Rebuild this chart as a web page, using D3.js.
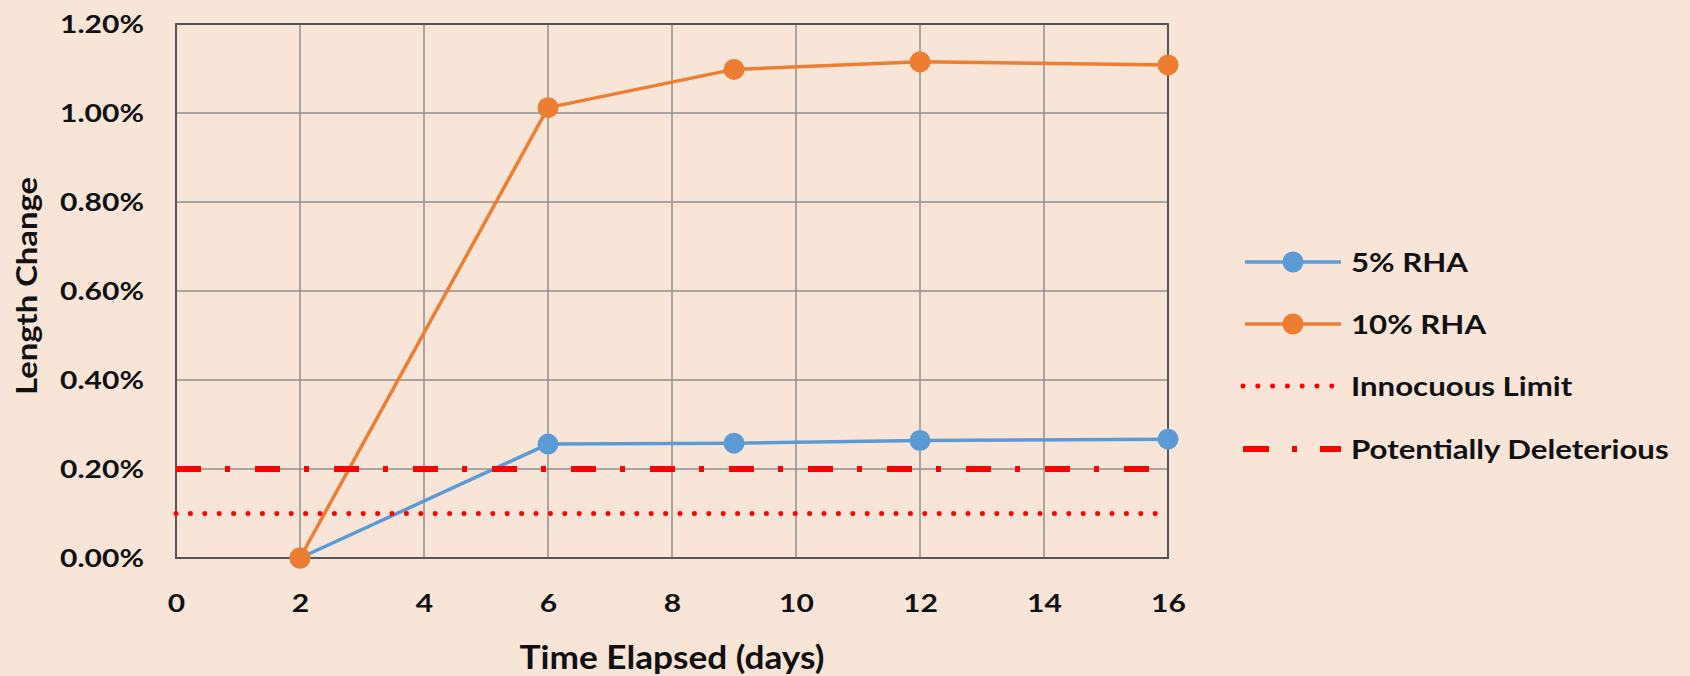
<!DOCTYPE html>
<html>
<head>
<meta charset="utf-8">
<script src="https://cdn.jsdelivr.net/npm/d3@7/dist/d3.min.js"></script>
<style>
  html, body { margin: 0; padding: 0; background: #F9E5D8; }
  svg { display: block; }
  text { font-family: Lato, "Open Sans", sans-serif; font-weight: bold; fill: #111; }
</style>
</head>
<body>
<svg id="chart" width="1690" height="676"></svg>
<script>
// ---- data ----
const days = [2, 6, 9, 12, 16];
const rha5 = [0, 0.00256, 0.00258, 0.00264, 0.00267];
const rha10 = [0, 0.01012, 0.01098, 0.01115, 0.01108];
const innocuousLimit = 0.001;
const potentiallyDeleterious = 0.002;
const xTicks = [0, 2, 4, 6, 8, 10, 12, 14, 16];
const yTicks = [0, 0.002, 0.004, 0.006, 0.008, 0.010, 0.012];
const seriesNames = ["5% RHA", "10% RHA", "Innocuous Limit", "Potentially Deleterious"];
const xTitle = "Time Elapsed (days)";
const yTitle = "Length Change";

// ---- layout ----
const svg = d3.select("#chart");
const x = d3.scaleLinear().domain([0, 16]).range([176, 1168]);
const y = d3.scaleLinear().domain([0, 0.012]).range([558, 24]);
const blue = "#5B9BD5", orange = "#ED7D31", red = "#FF0000";
const SX = 1.2; // horizontal text stretch seen in the reference

svg.append("rect").attr("width", 1690).attr("height", 676).attr("fill", "#F9E5D8");

// gridlines
const grid = svg.append("g");
grid.selectAll("line.v").data(xTicks).enter().append("line")
  .attr("x1", d => x(d)).attr("x2", d => x(d)).attr("y1", y(0.012)).attr("y2", y(0))
  .attr("stroke", "#8f8f8f").attr("stroke-width", 1.5);
grid.selectAll("line.h").data(yTicks).enter().append("line")
  .attr("y1", d => y(d)).attr("y2", d => y(d)).attr("x1", x(0)).attr("x2", x(16))
  .attr("stroke", "#8f8f8f").attr("stroke-width", 1.5);
// frame
svg.append("rect").attr("x", x(0)).attr("y", y(0.012))
  .attr("width", x(16) - x(0)).attr("height", y(0) - y(0.012))
  .attr("fill", "none").attr("stroke", "#555").attr("stroke-width", 2);

function stretch(sel, sx) {
  sel.each(function () {
    const t = d3.select(this);
    const tx = +t.attr("x") || 0;
    t.attr("x", 0).attr("transform", `translate(${tx},0) scale(${sx},1)`);
  });
}

// axes (labels only)
const yAxis = d3.axisLeft(y).tickValues(yTicks).tickFormat(d3.format(".2%")).tickSize(0).tickPadding(32);
const gy = svg.append("g").attr("transform", `translate(${x(0)},0)`).call(yAxis);
gy.select(".domain").remove();
gy.selectAll("text").style("font-size", "25px").attr("dy", "0.35em").attr("fill", "#111");
stretch(gy.selectAll("text"), SX);

const xAxis = d3.axisBottom(x).tickValues(xTicks).tickFormat(d3.format("d")).tickSize(0).tickPadding(36);
const gx = svg.append("g").attr("transform", `translate(0,${y(0)})`).call(xAxis);
gx.select(".domain").remove();
gx.selectAll("text").style("font-size", "25px").attr("fill", "#111");
stretch(gx.selectAll("text"), SX);

// titles
svg.append("text").attr("transform", `translate(${(x(0) + x(16)) / 2},669) scale(1.1,1)`)
  .attr("text-anchor", "middle")
  .style("font-size", "32px").text(xTitle);
svg.append("text").attr("transform", `translate(37,286) rotate(-90) scale(1.17,1)`)
  .attr("text-anchor", "middle")
  .style("font-size", "28px").text(yTitle);

// series
const line = d3.line().x(d => x(d[0])).y(d => y(d[1]));
const s5 = days.map((d, i) => [d, rha5[i]]);
const s10 = days.map((d, i) => [d, rha10[i]]);

function drawSeries(data, color) {
  svg.append("path").datum(data).attr("d", line).attr("fill", "none")
    .attr("stroke", color).attr("stroke-width", 3.5).attr("stroke-linejoin", "round");
  svg.append("g").selectAll("circle").data(data).enter().append("circle")
    .attr("cx", d => x(d[0])).attr("cy", d => y(d[1])).attr("r", 10.5).attr("fill", color);
}
drawSeries(s5, blue);
drawSeries(s10, orange);

// limit lines
svg.append("line").attr("x1", x(0)).attr("x2", x(16))
  .attr("y1", y(innocuousLimit)).attr("y2", y(innocuousLimit))
  .attr("stroke", red).attr("stroke-width", 5).attr("stroke-linecap", "round")
  .attr("stroke-dasharray", "0 14.4");
svg.append("line").attr("x1", x(0)).attr("x2", x(16))
  .attr("y1", y(potentiallyDeleterious)).attr("y2", y(potentiallyDeleterious))
  .attr("stroke", red).attr("stroke-width", 6)
  .attr("stroke-dasharray", "25 24 5 25");

// legend
const legY = [262, 324, 386, 449];
const lx1 = 1245, lx2 = 1341, tx = 1351;
const leg = svg.append("g");
[blue, orange].forEach((c, i) => {
  leg.append("line").attr("x1", lx1).attr("x2", lx2).attr("y1", legY[i]).attr("y2", legY[i])
    .attr("stroke", c).attr("stroke-width", 3.5);
  leg.append("circle").attr("cx", (lx1 + lx2) / 2).attr("cy", legY[i]).attr("r", 10.5).attr("fill", c);
});
leg.append("line").attr("x1", lx1 - 2).attr("x2", lx2 - 5).attr("y1", legY[2]).attr("y2", legY[2])
  .attr("stroke", red).attr("stroke-width", 5).attr("stroke-linecap", "round")
  .attr("stroke-dasharray", "0 14.8");
leg.append("line").attr("x1", lx1 - 2).attr("x2", lx2).attr("y1", legY[3]).attr("y2", legY[3])
  .attr("stroke", red).attr("stroke-width", 6)
  .attr("stroke-dasharray", "26 23 5 23");
seriesNames.forEach((n, i) => {
  leg.append("text").attr("transform", `translate(${tx},${legY[i]}) scale(${SX},1)`)
    .attr("dominant-baseline", "central")
    .style("font-size", "26px").text(n);
});
</script>
</body>
</html>
